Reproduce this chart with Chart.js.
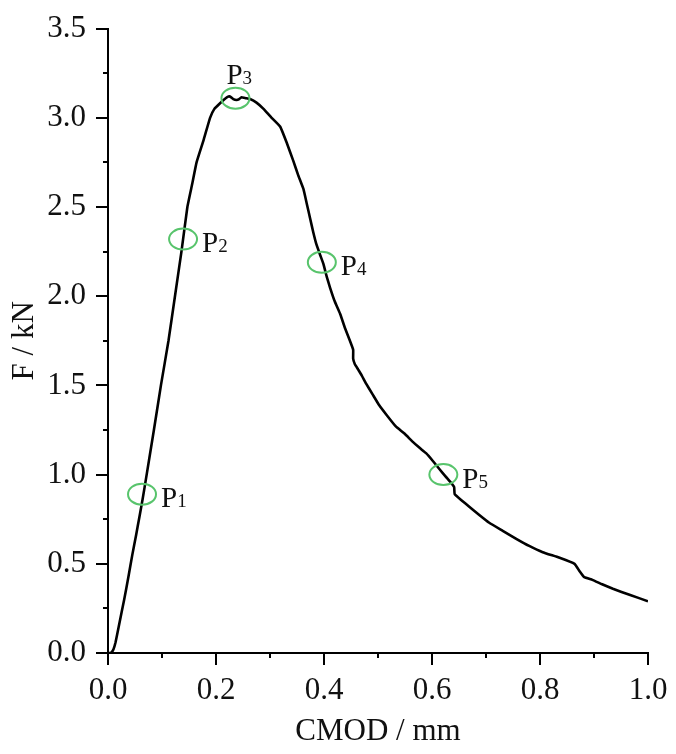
<!DOCTYPE html>
<html>
<head>
<meta charset="utf-8">
<script src="https://cdn.jsdelivr.net/npm/chart.js@4"></script>
<style>
  html, body { margin: 0; padding: 0; background: #fff; }
  #wrap { width: 676px; height: 754px; }
</style>
</head>
<body>
<div id="wrap"><canvas id="chart" width="676" height="754"></canvas></div>
<script>
// CMOD (mm) vs force (kN)
let cmod = [0.000, 0.005, 0.010, 0.014, 0.020, 0.030, 0.038, 0.045, 0.052, 0.058,
  0.064, 0.0716, 0.085, 0.098, 0.112, 0.124, 0.136, 0.147, 0.156, 0.164,
  0.177, 0.189, 0.197, 0.207, 0.214, 0.220, 0.226, 0.232, 0.238, 0.243,
  0.247, 0.255, 0.263, 0.275, 0.288, 0.303, 0.319, 0.331, 0.343, 0.352,
  0.362, 0.368, 0.374, 0.380, 0.386, 0.393, 0.399, 0.405, 0.411, 0.420,
  0.430, 0.439, 0.448, 0.454, 0.454, 0.457, 0.463, 0.470, 0.478, 0.490,
  0.502, 0.517, 0.533, 0.549, 0.564, 0.577, 0.589, 0.602, 0.614, 0.625,
  0.635, 0.641, 0.642, 0.655, 0.669, 0.687, 0.706, 0.731, 0.756, 0.780,
  0.805, 0.835, 0.864, 0.873, 0.882, 0.897, 0.915, 0.935, 0.967, 1.000];
let force = [0.00, 0.00, 0.02, 0.06, 0.15, 0.30, 0.43, 0.55, 0.66, 0.76,
  0.86, 1.00, 1.25, 1.50, 1.75, 2.00, 2.25, 2.50, 2.63, 2.75,
  2.875, 3.00, 3.05, 3.08, 3.10, 3.115, 3.12, 3.105, 3.10, 3.105,
  3.115, 3.11, 3.105, 3.085, 3.05, 3.00, 2.95, 2.86, 2.76, 2.68,
  2.60, 2.52, 2.44, 2.36, 2.29, 2.23, 2.18, 2.11, 2.05, 1.97,
  1.90, 1.82, 1.75, 1.70, 1.65, 1.62, 1.59, 1.555, 1.51, 1.45,
  1.39, 1.33, 1.27, 1.23, 1.185, 1.15, 1.12, 1.075, 1.03, 0.99,
  0.955, 0.93, 0.89, 0.855, 0.82, 0.775, 0.73, 0.685, 0.64, 0.60,
  0.565, 0.535, 0.50, 0.46, 0.425, 0.41, 0.385, 0.36, 0.325, 0.29];

// marked points P1..P5
let markNames = ['1', '2', '3', '4', '5'];
let markX = [0.063, 0.139, 0.236, 0.396, 0.621];
let markY = [0.89, 2.32, 3.11, 2.19, 1.00];

let serif = '"Liberation Serif", "Times New Roman", serif';

// outward major/minor ticks (minor ones have an empty label)
let tickPlugin = {
  id: 'ticks',
  afterDraw(chart) {
    let ctx = chart.ctx;
    let xs = chart.scales.x, ys = chart.scales.y;
    let area = chart.chartArea;
    ctx.save();
    ctx.strokeStyle = '#000';
    ctx.lineWidth = 2;
    xs.ticks.forEach((t, i) => {
      let px = Math.round(xs.getPixelForTick(i));
      let len = t.label === '' ? 5 : 12;
      ctx.beginPath();
      ctx.moveTo(px, area.bottom);
      ctx.lineTo(px, area.bottom + len);
      ctx.stroke();
    });
    ys.ticks.forEach((t, i) => {
      let py = Math.round(ys.getPixelForTick(i));
      let len = t.label === '' ? 5 : 12;
      ctx.beginPath();
      ctx.moveTo(area.left, py);
      ctx.lineTo(area.left - len, py);
      ctx.stroke();
    });
    ctx.restore();
  }
};

// green ellipses and P labels
let markPlugin = {
  id: 'marks',
  afterDatasetsDraw(chart) {
    let ctx = chart.ctx;
    let xs = chart.scales.x, ys = chart.scales.y;
    ctx.save();
    markX.forEach((mx, i) => {
      let cx = xs.getPixelForValue(mx);
      let cy = ys.getPixelForValue(markY[i]);
      ctx.strokeStyle = '#58c46c';
      ctx.lineWidth = 2;
      ctx.beginPath();
      ctx.ellipse(cx, cy, 14, 10.5, 0, 0, Math.PI * 2);
      ctx.stroke();

      let tx, ty;
      if (i === 2) { tx = cx - 9; ty = cy - 14; }
      else { tx = cx + 19; ty = cy + 13; }
      ctx.fillStyle = '#111';
      ctx.textBaseline = 'alphabetic';
      ctx.textAlign = 'left';
      ctx.font = '29px ' + serif;
      ctx.fillText('P', tx, ty);
      let w = ctx.measureText('P').width;
      ctx.font = '19px ' + serif;
      ctx.fillText(markNames[i], tx + w, ty);
    });
    ctx.restore();
  }
};

let ctx = document.getElementById('chart');
let chart = new Chart(ctx, {
  type: 'line',
  data: {
    datasets: [{
      data: cmod.map((x, i) => ({ x: x, y: force[i] })),
      borderColor: '#000',
      borderWidth: 2.6,
      pointRadius: 0,
      fill: false,
      tension: 0.1
    }]
  },
  options: {
    responsive: false,
    animation: false,
    layout: { padding: { left: 6, right: 28, top: 24, bottom: 0 } },
    plugins: { legend: { display: false }, tooltip: { enabled: false } },
    scales: {
      x: {
        type: 'linear',
        min: 0, max: 1,
        afterFit(scale) { scale.height = 101; },
        border: { display: true, color: '#000', width: 2 },
        grid: { display: true, drawOnChartArea: false, drawTicks: true, tickLength: 12, tickColor: 'rgba(0,0,0,0)' },
        ticks: {
          stepSize: 0.1,
          autoSkip: false,
          maxRotation: 0,
          padding: 7,
          color: '#111',
          font: { family: serif, size: 31 },
          callback: (v, i) => (i % 2 ? '' : v.toFixed(1))
        },
        title: {
          display: true,
          text: 'CMOD / mm',
          color: '#111',
          font: { family: serif, size: 31 },
          padding: { top: 0, bottom: 4 }
        }
      },
      y: {
        type: 'linear',
        min: 0, max: 3.5,
        afterFit(scale) { scale.width = 102; },
        border: { display: true, color: '#000', width: 2 },
        grid: { display: true, drawOnChartArea: false, drawTicks: true, tickLength: 12, tickColor: 'rgba(0,0,0,0)' },
        ticks: {
          stepSize: 0.25,
          autoSkip: false,
          padding: 10,
          color: '#111',
          font: { family: serif, size: 31 },
          callback: (v, i) => (i % 2 ? '' : v.toFixed(1))
        },
        title: {
          display: true,
          text: 'F / kN',
          color: '#111',
          font: { family: serif, size: 31 },
          padding: { top: 0, bottom: 0 }
        }
      }
    }
  },
  plugins: [tickPlugin, markPlugin]
});
</script>
</body>
</html>
